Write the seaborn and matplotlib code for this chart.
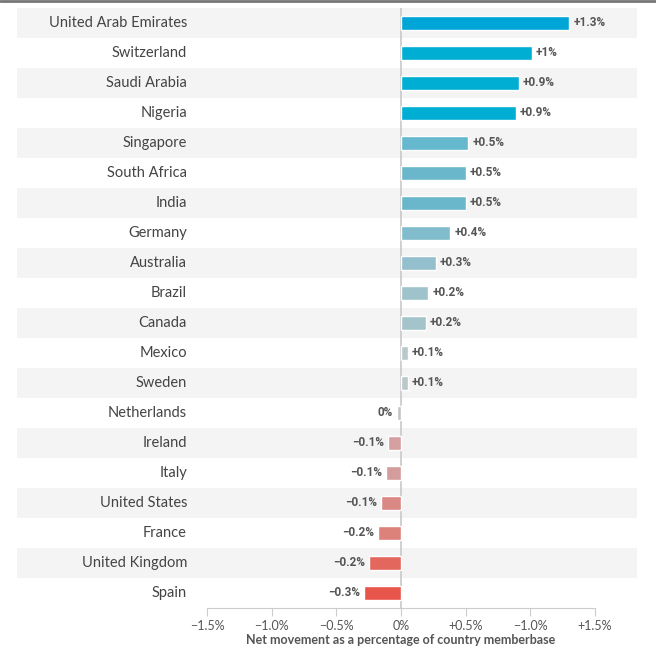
import matplotlib
matplotlib.use('Agg')
import matplotlib.pyplot as plt
from matplotlib.lines import Line2D
import seaborn as sns
import pandas as pd

countries = ['United Arab Emirates', 'Switzerland', 'Saudi Arabia', 'Nigeria', 'Singapore',
             'South Africa', 'India', 'Germany', 'Australia', 'Brazil', 'Canada', 'Mexico',
             'Sweden', 'Netherlands', 'Ireland', 'Italy', 'United States', 'France',
             'United Kingdom', 'Spain']
values = [1.30, 1.01, 0.91, 0.89, 0.52, 0.50, 0.50, 0.38, 0.27, 0.21, 0.19, 0.054,
          0.054, -0.03, -0.10, -0.115, -0.155, -0.175, -0.245, -0.285]
value_labels = ['+1.3%', '+1%', '+0.9%', '+0.9%', '+0.5%', '+0.5%', '+0.5%', '+0.4%',
                '+0.3%', '+0.2%', '+0.2%', '+0.1%', '+0.1%', '0%', '\u22120.1%', '\u22120.1%',
                '\u22120.1%', '\u22120.2%', '\u22120.2%', '\u22120.3%']
bar_colors = ['#00a5d8', '#00aed4', '#00aed4', '#00aed4', '#66b8cf', '#6ab7cc', '#6ab7cc',
              '#80bccb', '#94bfcc', '#9fc3cb', '#a3c4cb', '#bac8cc', '#bac8cc', '#c8c3c3',
              '#d5a09f', '#d49c9b', '#d98884', '#dc827a', '#e3675c', '#e8554a']
tick_values = [-1.5, -1.0, -0.5, 0, 0.5, 1.0, 1.5]
tick_labels = ['\u22121.5%', '\u22121.0%', '\u22120.5%', '0%', '+0.5%', '\u22121.0%', '+1.5%']

df = pd.DataFrame({'country': countries, 'value': values})

sns.set_style('white')
plt.rcParams['font.family'] = ['Lato', 'DejaVu Sans']

fig = plt.figure(figsize=(6.56, 6.48), dpi=100)
ax = fig.add_axes([17 / 656, 40 / 648, 620 / 656, 600 / 648])

# alternating row stripes
for i in range(len(countries)):
    if i % 2 == 0:
        ax.axhspan(i - 0.5, i + 0.5, color='#f4f4f4', zorder=0, lw=0)

sns.barplot(data=df, x='value', y='country', hue='country', palette=bar_colors,
            saturation=1, legend=False, orient='h', width=0.45, ax=ax, zorder=2)

ax.axvline(0, color='#c8c8c8', lw=1.2, zorder=1)

px = 388 / 3.0  # pixels per unit
xmin = -1.5 - 190 / px
xmax = 1.5 + 42 / px
ax.set_xlim(xmin, xmax)
ax.set_ylim(len(countries) - 0.5, -0.5)

val_font = ['Liberation Sans Narrow', 'Roboto', 'DejaVu Sans']
for i, (c, v, lab) in enumerate(zip(countries, values, value_labels)):
    ax.text(-1.5 - 20 / px, i, c, ha='right', va='center', fontsize=10.5, color='#444444')
    if v >= 0:
        ax.text(v + 4 / px, i, lab, ha='left', va='center', fontsize=8.5, color='#555555',
                fontweight='bold', family=val_font)
    else:
        ax.text(v - 4 / px, i, lab, ha='right', va='center', fontsize=8.5, color='#555555',
                fontweight='bold', family=val_font)

for s in ['left', 'top', 'right']:
    ax.spines[s].set_visible(False)
ax.spines['bottom'].set_bounds(-1.5, 1.5)
ax.spines['bottom'].set_color('#cccccc')
ax.set_yticks([])
ax.set_ylabel('')
ax.set_xticks(tick_values)
ax.set_xticklabels(tick_labels)
ax.tick_params(axis='x', direction='out', length=6, color='#cccccc', labelcolor='#555555',
               labelsize=9, pad=3, bottom=True)
ax.set_xlabel('Net movement as a percentage of country memberbase', fontsize=9,
              color='#555555', fontweight='bold')
ax.xaxis.set_label_coords((0 - xmin) / (xmax - xmin), -26 / 600)

fig.add_artist(Line2D([0, 1], [0.999, 0.999], color='#777777', lw=2, transform=fig.transFigure))

plt.savefig('out.png', dpi=100)
